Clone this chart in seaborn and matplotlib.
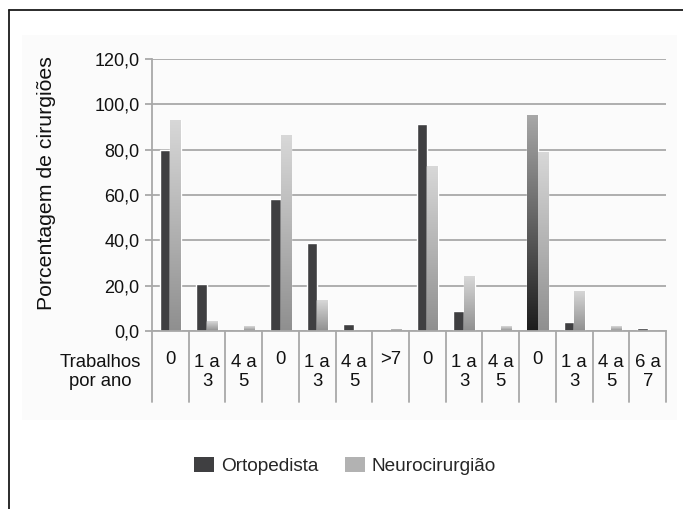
import numpy as np
import pandas as pd
import matplotlib
matplotlib.use('Agg')
import matplotlib.pyplot as plt
import matplotlib.transforms as mtransforms
import seaborn as sns
from matplotlib.patches import Patch, Rectangle
from matplotlib.lines import Line2D
from matplotlib.colors import LinearSegmentedColormap
from matplotlib.ticker import FuncFormatter

# Dados
categorias = ['0', '1 a\n3', '4 a\n5', '0', '1 a\n3', '4 a\n5', '>7',
              '0', '1 a\n3', '4 a\n5', '0', '1 a\n3', '4 a\n5', '6 a\n7']
ortopedista = [80.0, 20.6, 0.0, 58.2, 38.9, 2.9, 0.0, 91.3, 8.8, 0.0, 95.4, 4.0, 0.0, 1.2]
neurocirurgiao = [93.1, 4.3, 2.1, 86.4, 13.5, 0.0, 0.9, 72.9, 24.2, 2.1, 79.1, 17.7, 2.1, 0.0]
series = ['Ortopedista', 'Neurocirurgião']
rotulo_x = 'Trabalhos\npor ano'
rotulo_y = 'Porcentagem de cirurgiões'

W, H = 683, 509
COR_ORTO = '#3f3f41'
COR_NEURO = '#b2b2b2'
COR_GRADE = '#a8a8a8'
COR_TEXTO = '#111111'

# Tabela longa para o seaborn
pos = [f'c{i}' for i in range(len(categorias))]
df = pd.DataFrame({
    'pos': pos * 2,
    'serie': [series[0]] * len(pos) + [series[1]] * len(pos),
    'valor': ortopedista + neurocirurgiao,
})

sns.set_theme(style='white')
plt.rcParams['font.family'] = ['Liberation Sans', 'DejaVu Sans']

fig = plt.figure(figsize=(W / 100, H / 100), dpi=100)
# painel de fundo bem claro e moldura
fig.patches.append(Rectangle((22 / W, 1 - 420 / H), (677 - 22) / W, (420 - 35) / H,
                             transform=fig.transFigure, facecolor='#fbfbfb',
                             edgecolor='none', zorder=-5))
fig.add_artist(Line2D([9 / W, 1], [1 - 10 / H] * 2, color='#1a1a1a', lw=1.3))
fig.add_artist(Line2D([9 / W] * 2, [0, 1 - 10 / H], color='#1a1a1a', lw=1.3))

ax = fig.add_axes([152 / W, 1 - 331 / H, (666 - 152) / W, (331 - 59) / H])
ax.set_facecolor('none')

sns.barplot(data=df, x='pos', y='valor', hue='serie', order=pos, hue_order=series,
            palette={series[0]: COR_ORTO, series[1]: COR_NEURO}, width=0.58, gap=0,
            saturation=1, errorbar=None, legend=False, ax=ax, zorder=2)

# gradiente nas barras (como no original)
grad = np.linspace(0, 1, 256).reshape(-1, 1)
cmap_neuro = LinearSegmentedColormap.from_list('neuro', ['#8f8f8f', '#d8d8d8'])
cmap_destaque = LinearSegmentedColormap.from_list('dest', ['#1c1c1c', '#a8a8a8'])
destaque = 10  # barra de ortopedista com preenchimento degradê


def pinta(bar, cmap):
    h = bar.get_height()
    if h <= 0:
        return
    x0 = bar.get_x()
    im = ax.imshow(grad, extent=[x0, x0 + bar.get_width(), 0, h], origin='lower',
                   aspect='auto', cmap=cmap, zorder=2.1, interpolation='bilinear')
    im.set_clip_path(bar)
    bar.set_facecolor('none')


for bar in ax.containers[1]:
    pinta(bar, cmap_neuro)
pinta(ax.containers[0][destaque], cmap_destaque)

ax.set_aspect('auto')
ax.set_xlim(-0.5, len(categorias) - 0.5)
ax.set_ylim(0, 120)

# eixo y
ax.set_yticks(range(0, 121, 20))
ax.yaxis.set_major_formatter(FuncFormatter(lambda v, p: f'{v:.1f}'.replace('.', ',')))
ax.yaxis.grid(True, color=COR_GRADE, lw=1.3)
ax.set_axisbelow(True)
ax.tick_params(axis='y', left=True, length=5, width=1.3, color=COR_GRADE,
               direction='out', pad=4, labelsize=13, labelcolor=COR_TEXTO)
ax.set_xticks([])
ax.set_xlabel('')
ax.set_ylabel('')
for s in ['top', 'right']:
    ax.spines[s].set_visible(False)
for s in ['left', 'bottom']:
    ax.spines[s].set_color(COR_GRADE)
    ax.spines[s].set_linewidth(1.3)

# tabela de rótulos abaixo do eixo
trans = mtransforms.blended_transform_factory(ax.transData, ax.transAxes)
for b in np.arange(-0.5, len(categorias), 1):
    ax.plot([b, b], [0, -0.261], transform=trans, color=COR_GRADE, lw=1.3, clip_on=False)
for i, lab in enumerate(categorias):
    y_txt = -0.086 if '\n' in lab else -0.074
    ax.text(i, y_txt, lab, transform=trans, ha='center', va='top', fontsize=13.3,
            linespacing=1.15, color=COR_TEXTO)
ax.text(-1.92, -0.086, rotulo_x, transform=trans, ha='center', va='top', fontsize=13.3,
        linespacing=1.15, color=COR_TEXTO)

fig.text(47 / W, 1 - 183 / H, rotulo_y, rotation=90, ha='center', va='center',
         fontsize=15.3, color=COR_TEXTO)

handles = [Patch(facecolor=COR_ORTO, edgecolor='none', label=series[0]),
           Patch(facecolor=COR_NEURO, edgecolor='none', label=series[1])]
fig.legend(handles=handles, loc='center', bbox_to_anchor=(345 / W, 1 - 466 / H), ncol=2,
           frameon=False, fontsize=13.7, handlelength=1.05, handleheight=0.85,
           handletextpad=0.35, columnspacing=1.4)

fig.savefig('out.png', dpi=100)
